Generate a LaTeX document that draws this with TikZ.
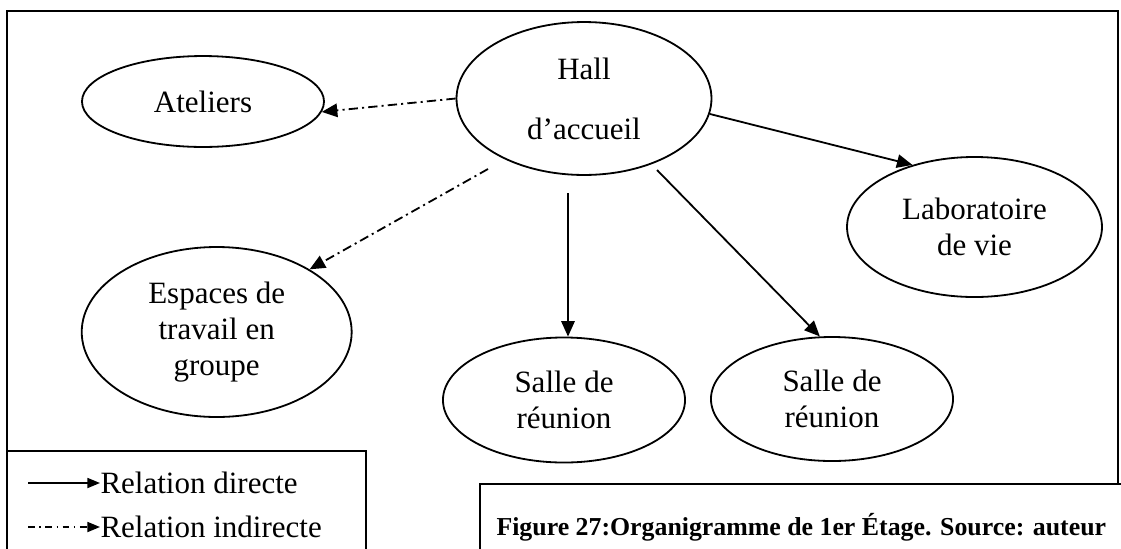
\documentclass[tikz,border=0pt]{standalone}
\usepackage{fontspec}
\setmainfont{Liberation Serif}
\usetikzlibrary{shapes.geometric,arrows.meta}
\begin{document}
\begin{tikzpicture}[x=0.3871pt,y=-0.3871pt,
  bubble/.style={draw,ellipse,line width=0.7pt,inner sep=0pt,align=center,font=\fontsize{12pt}{13.8pt}\selectfont},
  frameline/.style={draw,line width=0.75pt},
  direct/.style={line width=0.7pt,-{Triangle[length=6pt,width=5.2pt]}},
  indirect/.style={line width=0.7pt,dash pattern=on 3.6pt off 1.6pt on 0.8pt off 1.6pt,-{Triangle[length=6pt,width=5.2pt]}},
  legdirect/.style={line width=0.6pt,-{Triangle[length=4.9pt,width=3.9pt]}},
  legindirect/.style={line width=0.6pt,dash pattern=on 2.6pt off 1.8pt on 0.5pt off 1.8pt,-{Triangle[length=4.9pt,width=3.9pt]}},
  legtext/.style={anchor=base west,inner sep=0pt,font=\fontsize{12pt}{13.8pt}\selectfont},
  captext/.style={anchor=base west,inner sep=0pt,font=\fontsize{10pt}{11.5pt}\selectfont\bfseries}
]
\useasboundingbox (0,0) rectangle (1121,548);
\clip (0,0) rectangle (1121,548);
\fill[white] (0,0) rectangle (1121,548);
% outer frame
\draw[frameline] (7,11) rectangle (1118,600);

% nodes
\node[bubble,minimum width=93.7pt,minimum height=35.2pt] (ateliers) at (203,101.5) {Ateliers};
\node[bubble,minimum width=98.7pt,minimum height=59.2pt] (hall) at (584,98.5) {Hall\\[9.4pt]d’accueil};
\node[bubble,minimum width=98.7pt,minimum height=54.2pt] (labo) at (974.5,227) {Laboratoire\\de vie};
\node[bubble,minimum width=104.5pt,minimum height=65.8pt] (espaces) at (216.7,332) {Espaces de\\travail en\\groupe};
\node[bubble,minimum width=93.7pt,minimum height=48.4pt] (salleA) at (564,400) {Salle de\\réunion};
\node[bubble,minimum width=93.7pt,minimum height=48pt] (salleB) at (832,399) {Salle de\\réunion};

% free start points of connectors
\coordinate (hsEsp) at (488,169);
\coordinate (hsSalA) at (568,193);
\coordinate (hsSalB) at (657,170);

% connectors
\draw[indirect] (hall.west) -- (ateliers.-5);
\draw[indirect] (hsEsp) -- (espaces.34);
\draw[direct] (hsSalA) -- (hsSalA |- salleA.north);
\draw[direct] (hsSalB) -- (salleB.101);
\draw[direct] (hall.-7) -- (labo.135);

% legend box
\draw[frameline,fill=white] (7,451) rectangle (366,600);
\coordinate (l1s) at (28,483);
\node[legtext] (l1t) at (100,493) {Relation directe};
\draw[legdirect] (l1s) -- (l1t.west |- l1s);
\coordinate (l2s) at (28,527);
\node[legtext] (l2t) at (100,537) {Relation indirecte};
\draw[legindirect] (l2s) -- (l2t.west |- l2s);

% caption box
\draw[frameline,fill=white] (480,484) rectangle (1200,600);
\node[captext] (cap) at (496,535) {Figure 27:Organigramme de 1er Étage. Source: auteur};
\end{tikzpicture}
\end{document}
